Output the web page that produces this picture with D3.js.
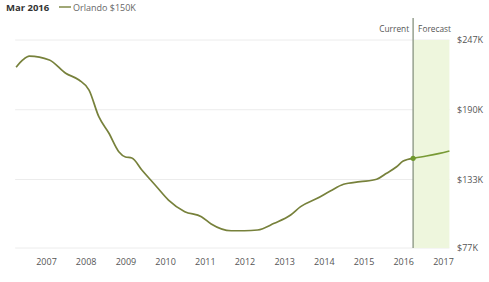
<!DOCTYPE html>
<html><head><meta charset="utf-8">
<script src="https://cdn.jsdelivr.net/npm/d3@7"></script>
<style>body{margin:0;background:#fff}svg{display:block}text{font-family:"Open Sans",sans-serif}</style>
</head><body><svg id="c" width="489" height="282"></svg>
<script>
const histMonths = ["2006-03","2006-05","2006-07","2007-01","2007-06","2007-10","2008-01","2008-04","2008-07","2008-10","2008-12","2009-02","2009-05","2009-09","2010-01","2010-06","2010-11","2011-02","2011-08","2011-12","2012-04","2012-09","2013-02","2013-05","2013-10","2014-02","2014-06","2014-11","2015-04","2015-07","2015-10","2015-12","2016-03"];
const histValues = [224.7,230.7,233.9,230.7,219.8,214.3,206.1,184.3,171.0,155.7,151.4,150.6,140.8,128.5,116.2,106.7,102.6,96.6,91.1,91.1,91.7,97.2,104.0,110.8,117.6,123.6,129.1,131.2,133.2,138.1,143.4,148.1,150.3];
const fcMonths = ["2016-03","2016-07","2016-11","2017-02"];
const fcValues = [150.3,152.2,154.4,156.3];
const yTicks = [77,133,190,247];
const xTickYears = [2007,2008,2009,2010,2011,2012,2013,2014,2015,2016,2017];
const titleText = "Mar 2016";
const legendText = "Orlando $150K";
const currentMonth = "2016-03";
const forecastEnd = "2017-02";

// month-end convention
const toDate = s => { const [y,m] = s.split("-").map(Number); return new Date(y, m, 1); };

const svg = d3.select("#c");
const x = d3.scaleTime().domain([new Date(2007,0,1), new Date(2017,0,1)]).range([46,443]);
const y = d3.scaleLinear().domain([77,247]).range([248,40]);
const left = x(toDate(histMonths[0])) - 1;
const right = x(toDate(forecastEnd));

// grid
svg.append("g").selectAll("line").data(yTicks).join("line")
  .attr("x1", left).attr("x2", right)
  .attr("y1", d=>y(d)).attr("y2", d=>y(d))
  .attr("stroke", "#ececec").attr("stroke-width", 1);

// forecast band
const cx = x(toDate(currentMonth));
svg.append("rect").attr("x", cx).attr("y", y(247)).attr("width", right - cx).attr("height", y(77) - y(247))
  .attr("fill", "#eef6dd");

// y labels
svg.append("g").selectAll("text").data(yTicks).join("text")
  .attr("x", 457).attr("y", d=>y(d)).attr("dy","0.35em")
  .attr("font-size", 9).attr("fill", "#555").text(d=>"$"+d+"K");

// x axis
const xAxis = d3.axisBottom(x).tickValues(xTickYears.map(yr=>new Date(yr,0,1)))
  .tickFormat(d3.timeFormat("%Y")).tickSize(0).tickPadding(0);
const gx = svg.append("g").attr("transform","translate(0,259)").call(xAxis);
gx.select(".domain").remove();
gx.selectAll("text").attr("font-size", 9).attr("fill", "#555").attr("font-family","Open Sans, sans-serif");

// current line
svg.append("line").attr("x1", cx).attr("x2", cx).attr("y1", 18).attr("y2", y(77))
  .attr("stroke", "#8f9a88").attr("stroke-width", 1.4);
svg.append("text").attr("x", cx-4).attr("y", 32).attr("text-anchor","end")
  .attr("font-size", 8.3).attr("fill", "#555").text("Current");
svg.append("text").attr("x", cx+5).attr("y", 32)
  .attr("font-size", 8.3).attr("fill", "#555").text("Forecast");

// lines
const line = d3.line().x(d=>x(d[0])).y(d=>y(d[1])).curve(d3.curveMonotoneX);
const hist = histMonths.map((m,i)=>[toDate(m), histValues[i]]);
const fc = fcMonths.map((m,i)=>[toDate(m), fcValues[i]]);
svg.append("path").datum(hist).attr("d", line).attr("fill","none")
  .attr("stroke","#77813b").attr("stroke-width",1.7).attr("stroke-linejoin","round");
svg.append("path").datum(fc).attr("d", line).attr("fill","none")
  .attr("stroke","#789a35").attr("stroke-width",1.7);
svg.append("circle").attr("cx", cx).attr("cy", y(histValues[histValues.length-1])).attr("r", 2.6)
  .attr("fill","#6f982c");

// title & legend
svg.append("text").attr("x", 6).attr("y", 10.5).attr("font-size", 9.5).attr("font-weight","bold")
  .attr("fill","#333").text(titleText);
svg.append("line").attr("x1", 59).attr("x2", 71).attr("y1", 7).attr("y2", 7)
  .attr("stroke","#77813b").attr("stroke-width",1.4);
svg.append("text").attr("x", 73).attr("y", 10.5).attr("font-size", 9).attr("fill","#666").text(legendText);
</script></body></html>
